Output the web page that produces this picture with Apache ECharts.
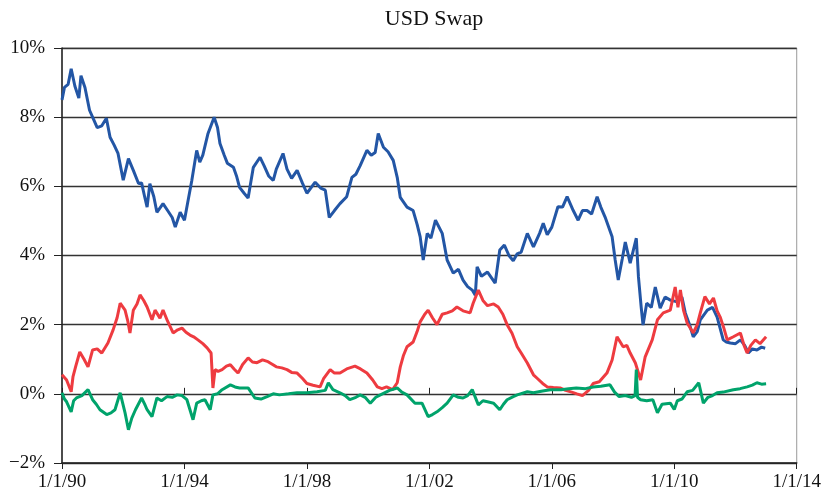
<!DOCTYPE html>
<html>
<head>
<meta charset="utf-8">
<script src="https://cdn.jsdelivr.net/npm/echarts@6/dist/echarts.min.js"></script>
<style>
	html, body { margin: 0; padding: 0; background: #fff; }
	#chart { width: 824px; height: 499px; }
</style>
</head>
<body>
<div id="chart"></div>
<script>
// values, [year, percent]
var level = [
	[1990.0,8.5],[1990.08,8.86],[1990.2,8.95],[1990.3,9.4],[1990.42,8.9],[1990.55,8.55],[1990.62,9.2],
	[1990.75,8.86],[1990.9,8.2],[1991.05,7.9],[1991.15,7.7],[1991.3,7.75],[1991.45,7.97],[1991.57,7.42],
	[1991.7,7.2],[1991.83,6.95],[1992.0,6.18],[1992.17,6.8],[1992.33,6.46],[1992.5,6.08],[1992.6,6.1],
	[1992.7,5.7],[1992.78,5.4],[1992.87,6.08],[1993.0,5.7],[1993.1,5.25],[1993.3,5.5],[1993.45,5.3],
	[1993.6,5.1],[1993.7,4.82],[1993.86,5.25],[1994.0,5.02],[1994.12,5.6],[1994.24,6.17],[1994.4,7.04],
	[1994.5,6.7],[1994.6,6.9],[1994.77,7.53],[1994.97,8.0],[1995.08,7.7],[1995.16,7.24],[1995.3,6.9],
	[1995.4,6.67],[1995.6,6.55],[1995.7,6.3],[1995.8,5.97],[1995.95,5.8],[1996.08,5.66],[1996.25,6.55],
	[1996.47,6.84],[1996.6,6.6],[1996.75,6.3],[1996.9,6.17],[1997.0,6.5],[1997.22,6.95],[1997.35,6.5],
	[1997.5,6.23],[1997.68,6.46],[1997.85,6.1],[1998.0,5.8],[1998.27,6.12],[1998.45,5.95],[1998.6,5.89],
	[1998.73,5.1],[1998.9,5.3],[1999.08,5.5],[1999.3,5.7],[1999.47,6.26],[1999.6,6.35],[1999.74,6.6],
	[1999.96,7.04],[2000.1,6.9],[2000.23,6.98],[2000.33,7.53],[2000.5,7.13],[2000.65,7.0],[2000.82,6.75],
	[2000.95,6.26],[2001.05,5.68],[2001.27,5.4],[2001.47,5.3],[2001.6,4.9],[2001.7,4.54],[2001.8,3.87],
	[2001.93,4.64],[2002.05,4.5],[2002.2,5.02],[2002.42,4.64],[2002.58,3.87],[2002.78,3.49],[2002.95,3.6],
	[2003.1,3.29],[2003.25,3.1],[2003.4,3.0],[2003.5,2.85],[2003.56,3.67],[2003.7,3.4],[2003.9,3.52],
	[2004.15,3.2],[2004.3,4.16],[2004.45,4.3],[2004.6,4.0],[2004.74,3.85],[2004.87,4.05],[2005.0,4.1],
	[2005.2,4.64],[2005.4,4.25],[2005.6,4.64],[2005.72,4.93],[2005.85,4.6],[2006.0,4.82],[2006.2,5.41],
	[2006.35,5.4],[2006.5,5.7],[2006.7,5.3],[2006.86,5.02],[2007.0,5.3],[2007.15,5.3],[2007.3,5.2],
	[2007.48,5.7],[2007.6,5.4],[2007.74,5.11],[2007.97,4.54],[2008.07,3.87],[2008.17,3.29],[2008.3,3.9],
	[2008.4,4.39],[2008.56,3.78],[2008.76,4.5],[2008.83,3.38],[2008.92,2.5],[2008.98,1.99],[2009.1,2.62],
	[2009.25,2.5],[2009.38,3.09],[2009.54,2.48],[2009.7,2.8],[2009.87,2.71],[2010.1,2.66],[2010.25,2.8],
	[2010.36,2.34],[2010.5,2.0],[2010.62,1.65],[2010.75,1.8],[2010.85,2.14],[2011.08,2.42],[2011.25,2.5],
	[2011.4,2.22],[2011.6,1.56],[2011.7,1.5],[2011.83,1.47],[2012.0,1.45],[2012.16,1.56],[2012.3,1.4],
	[2012.42,1.18],[2012.55,1.3],[2012.7,1.27],[2012.85,1.35],[2012.97,1.32]
];
var slope = [
	[1990.0,0.55],[1990.15,0.4],[1990.3,0.06],[1990.36,0.5],[1990.45,0.8],[1990.58,1.21],[1990.72,1.0],
	[1990.85,0.78],[1991.0,1.27],[1991.15,1.3],[1991.3,1.18],[1991.5,1.47],[1991.67,1.85],[1991.8,2.2],
	[1991.9,2.62],[1992.06,2.42],[1992.15,2.1],[1992.22,1.76],[1992.33,2.42],[1992.45,2.6],[1992.55,2.86],
	[1992.67,2.7],[1992.78,2.51],[1992.94,2.14],[1993.04,2.42],[1993.2,2.19],[1993.3,2.42],[1993.45,2.1],
	[1993.63,1.76],[1993.78,1.85],[1993.92,1.9],[1994.05,1.78],[1994.18,1.7],[1994.3,1.65],[1994.44,1.56],
	[1994.6,1.45],[1994.74,1.33],[1994.87,1.18],[1994.93,0.17],[1995.0,0.7],[1995.1,0.65],[1995.23,0.7],
	[1995.37,0.8],[1995.5,0.84],[1995.62,0.72],[1995.75,0.6],[1995.9,0.85],[1996.08,1.04],[1996.22,0.92],
	[1996.37,0.9],[1996.55,0.98],[1996.73,0.93],[1996.88,0.85],[1997.0,0.78],[1997.18,0.75],[1997.35,0.7],
	[1997.5,0.62],[1997.68,0.6],[1997.85,0.45],[1998.0,0.3],[1998.2,0.25],[1998.43,0.2],[1998.55,0.45],
	[1998.76,0.7],[1998.9,0.6],[1999.08,0.6],[1999.3,0.72],[1999.57,0.8],[1999.75,0.72],[1999.96,0.6],
	[2000.15,0.4],[2000.3,0.2],[2000.45,0.15],[2000.6,0.2],[2000.8,0.12],[2000.95,0.32],[2001.05,0.78],
	[2001.15,1.1],[2001.27,1.36],[2001.47,1.5],[2001.6,1.8],[2001.7,2.08],[2001.85,2.3],[2001.96,2.42],
	[2002.1,2.2],[2002.25,2.0],[2002.42,2.3],[2002.58,2.34],[2002.75,2.4],[2002.9,2.51],[2003.1,2.4],
	[2003.33,2.34],[2003.43,2.62],[2003.6,3.0],[2003.75,2.7],[2003.9,2.55],[2004.1,2.6],[2004.25,2.51],
	[2004.4,2.3],[2004.54,2.0],[2004.7,1.75],[2004.87,1.36],[2005.0,1.18],[2005.2,0.89],[2005.4,0.55],
	[2005.52,0.45],[2005.7,0.3],[2005.85,0.2],[2006.05,0.18],[2006.27,0.17],[2006.45,0.1],[2006.65,0.05],
	[2006.82,0.0],[2007.0,-0.05],[2007.2,0.1],[2007.35,0.3],[2007.55,0.35],[2007.8,0.6],[2007.97,0.98],
	[2008.13,1.65],[2008.33,1.36],[2008.45,1.4],[2008.56,1.18],[2008.73,0.89],[2008.9,0.4],[2009.05,1.07],
	[2009.28,1.56],[2009.45,2.14],[2009.64,2.34],[2009.87,2.42],[2010.03,3.09],[2010.12,2.5],[2010.2,3.0],
	[2010.3,2.42],[2010.42,2.05],[2010.62,1.76],[2010.75,2.0],[2010.85,2.34],[2011.0,2.81],[2011.15,2.6],
	[2011.28,2.77],[2011.4,2.4],[2011.5,2.22],[2011.62,1.9],[2011.73,1.56],[2011.93,1.65],[2012.16,1.76],
	[2012.28,1.4],[2012.38,1.18],[2012.5,1.4],[2012.65,1.56],[2012.8,1.45],[2013.0,1.65]
];
var curvature = [
	[1990.0,0.03],[1990.08,-0.15],[1990.15,-0.23],[1990.3,-0.52],[1990.38,-0.2],[1990.47,-0.12],[1990.65,-0.05],
	[1990.85,0.12],[1991.0,-0.17],[1991.12,-0.3],[1991.24,-0.46],[1991.46,-0.6],[1991.6,-0.55],[1991.73,-0.46],
	[1991.9,0.03],[1992.06,-0.55],[1992.17,-1.04],[1992.28,-0.7],[1992.4,-0.46],[1992.6,-0.12],[1992.7,-0.3],
	[1992.78,-0.46],[1992.94,-0.66],[1993.1,-0.12],[1993.25,-0.2],[1993.43,-0.08],[1993.6,-0.1],[1993.76,-0.03],
	[1993.92,-0.05],[1994.08,-0.17],[1994.28,-0.75],[1994.4,-0.27],[1994.55,-0.2],[1994.67,-0.17],[1994.84,-0.46],
	[1994.93,-0.03],[1995.08,0.0],[1995.23,0.12],[1995.5,0.26],[1995.65,0.2],[1995.8,0.17],[1996.08,0.17],
	[1996.3,-0.12],[1996.5,-0.15],[1996.7,-0.08],[1996.9,0.0],[1997.1,-0.03],[1997.4,0.0],[1997.68,0.03],
	[1998.0,0.03],[1998.33,0.06],[1998.6,0.1],[1998.7,0.32],[1998.85,0.12],[1999.08,0.03],[1999.25,-0.05],
	[1999.4,-0.17],[1999.6,-0.1],[1999.74,-0.03],[1999.9,-0.1],[2000.07,-0.27],[2000.25,-0.1],[2000.4,-0.03],
	[2000.7,0.1],[2000.95,0.17],[2001.1,0.05],[2001.27,-0.03],[2001.53,-0.27],[2001.76,-0.27],[2001.96,-0.66],
	[2002.1,-0.6],[2002.25,-0.52],[2002.42,-0.4],[2002.58,-0.27],[2002.78,-0.03],[2002.95,-0.1],[2003.1,-0.12],
	[2003.25,-0.05],[2003.4,0.12],[2003.6,-0.32],[2003.75,-0.2],[2003.9,-0.23],[2004.1,-0.27],[2004.3,-0.46],
	[2004.42,-0.3],[2004.54,-0.17],[2004.74,-0.08],[2004.87,-0.03],[2005.2,0.06],[2005.4,0.03],[2005.7,0.08],
	[2005.95,0.12],[2006.3,0.12],[2006.55,0.15],[2006.8,0.17],[2007.1,0.15],[2007.35,0.2],[2007.6,0.22],
	[2007.9,0.26],[2008.05,0.05],[2008.2,-0.08],[2008.4,-0.05],[2008.6,-0.1],[2008.72,-0.05],[2008.76,0.7],
	[2008.8,-0.1],[2008.9,-0.17],[2009.1,-0.2],[2009.3,-0.17],[2009.45,-0.55],[2009.6,-0.3],[2009.87,-0.27],
	[2010.0,-0.45],[2010.1,-0.2],[2010.25,-0.15],[2010.42,0.06],[2010.6,0.1],[2010.8,0.32],[2010.95,-0.27],
	[2011.1,-0.1],[2011.25,-0.05],[2011.4,0.03],[2011.6,0.05],[2011.93,0.12],[2012.15,0.15],[2012.38,0.2],
	[2012.55,0.25],[2012.7,0.32],[2012.85,0.28],[2013.0,0.29]
];
var startYear = 1990;
var yTicks = [-2, 0, 2, 4, 6, 8, 10];

function toAxis(arr){
	// x axis counts years from 1/1/90
	return arr.map(function(p){ return [p[0] - startYear, p[1]]; });
}
function dateLabel(v){
	var y = (90 + v) % 100;
	return '1/1/' + (y < 10 ? '0' + y : y);
}
function pctLabel(v){
	return (v < 0 ? '\u2212' + (-v) : v) + '%';
}

var font = 'Liberation Serif';
var myChart = echarts.init(document.getElementById('chart'));
var option = {
	animation: false,
	backgroundColor: '#fff',
	title: {
		text: 'USD Swap',
		left: 429, top: 3, textAlign: 'center',
		textStyle: { fontFamily: font, fontSize: 22, fontWeight: 'normal', color: '#111' }
	},
	grid: { left: 62, right: 27, top: 48, bottom: 36, show: true, borderColor: '#999', borderWidth: 1 },
	xAxis: [{
		type: 'value', min: 0, max: 24, interval: 4,
		axisLine: { onZero: false, lineStyle: { color: '#222', width: 1.5 } },
		axisTick: { length: 6, lineStyle: { color: '#222' } },
		axisLabel: { formatter: dateLabel, fontFamily: font, fontSize: 19, color: '#111', margin: 10 },
		splitLine: { show: false }
	}, {
		// inside half of the crossing ticks
		type: 'value', min: 0, max: 24, interval: 4, position: 'bottom',
		axisLine: { show: false },
		axisTick: { inside: true, length: 6, lineStyle: { color: '#222' } },
		axisLabel: { show: false },
		splitLine: { show: false }
	}],
	yAxis: {
		type: 'value', min: yTicks[0], max: yTicks[yTicks.length - 1], interval: 2,
		axisLine: { show: true, lineStyle: { color: '#222', width: 1.5 } },
		axisTick: { show: true, length: 8, lineStyle: { color: '#222' } },
		axisLabel: { formatter: pctLabel, fontFamily: font, fontSize: 19, color: '#111', margin: 17 },
		splitLine: { lineStyle: { color: '#333', width: 1.3 } }
	},
	series: [
		{ type: 'line', data: toAxis(level), showSymbol: false, lineStyle: { color: '#2356A5', width: 3 } },
		{ type: 'line', data: toAxis(slope), showSymbol: false, lineStyle: { color: '#EE3B40', width: 3 } },
		{ type: 'line', data: toAxis(curvature), showSymbol: false, lineStyle: { color: '#00A36B', width: 3 } }
	]
};
myChart.setOption(option);
</script>
</body>
</html>
